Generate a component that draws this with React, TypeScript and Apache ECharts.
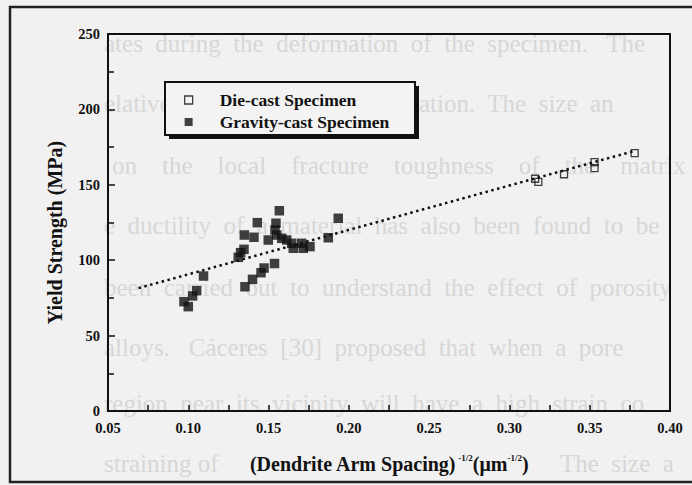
import React, { useEffect, useRef } from "react";
import * as echarts from "echarts";

// ---- data ----
const seriesNames = ["Die-cast Specimen", "Gravity-cast Specimen"];

const dieCastX = [0.316, 0.318, 0.334, 0.353, 0.353, 0.378];
const dieCastY = [154, 152, 157, 165, 161, 171];

const gravityX = [
  0.0973, 0.1, 0.1027, 0.1052, 0.1095, 0.1353, 0.14, 0.1453, 0.1472, 0.1537,
  0.1311, 0.1326, 0.1347, 0.1349, 0.1409, 0.143, 0.1498, 0.1546, 0.154, 0.1567,
  0.1551, 0.1582, 0.1613, 0.1644, 0.1654, 0.1706, 0.1716, 0.1758, 0.1872, 0.1934,
];
const gravityY = [
  72.5, 69.2, 76.3, 79.8, 89.5, 82.4, 87.3, 91.7, 94.8, 97.8,
  101.9, 105, 107.2, 116.7, 115.2, 124.9, 113.4, 124.5, 120, 132.8,
  116.7, 114.5, 113.4, 111.2, 107.9, 111.2, 107.9, 109, 114.9, 127.8,
];

const trendX = [0.069, 0.378];
const trendY = [81.5, 172.5];

const xMin = 0.05;
const xMax = 0.4;
const xStep = 0.05;
const yMin = 0;
const yMax = 250;
const yStep = 50;

const yTitle = "Yield Strength (MPa)";

// faint bleed-through text of the scanned page (fragments that stay visible)
const bleedTexts = [
  "ates  during  the  deformation  of  the  specimen.   The",
  "elatively",
  "ation.  The  size  an",
  "on    the    local    fracture    toughness    of    the    matrix",
  "e  ductility  of  a  material  has  also  been  found  to  be",
  "been  carried  out  to  understand  the  effect  of  porosity",
  "alloys.   Cáceres  [30]  proposed  that  when  a  pore",
  "region  near  its  vicinity  will  have  a  high  strain  co",
  "straining of",
  "The  size  a",
];

const SERIF = "'Liberation Serif', 'DejaVu Serif', serif";

export default function App() {
  const ref = useRef<HTMLDivElement>(null);
  useEffect(() => {
    const chart = echarts.init(ref.current!, null, { renderer: "svg" });
    const bleedPos = [
      [104, 44], [104, 104], [419, 104], [112, 166], [104, 226],
      [104, 288], [104, 348], [104, 404], [104, 464], [560, 464],
    ];
    chart.setOption({
      animation: false,
      backgroundColor: "#f1f1f1",
      graphic: [
        ...bleedTexts.map((t, i) => ({
          type: "text",
          left: bleedPos[i][0],
          top: bleedPos[i][1] - 13,
          z: -10,
          silent: true,
          style: {
            text: t,
            fill: "#d7d7d7",
            font: `25px ${SERIF}`,
          },
        })),
        {
          type: "polyline",
          z: 10,
          silent: true,
          shape: { points: [[700, 7], [10, 7], [10, 482], [700, 482]] },
          style: { stroke: "#222", lineWidth: 2.5, fill: "none" },
        },
        {
          type: "rect",
          z: 10,
          silent: true,
          shape: { x: 169, y: 86, width: 250, height: 53 },
          style: { fill: "#111" },
        },
        {
          type: "rect",
          z: 11,
          silent: true,
          shape: { x: 165, y: 82, width: 250, height: 53 },
          style: { fill: "#f3f3f3", stroke: "#111", lineWidth: 2 },
        },
      ],
      legend: {
        z: 20,
        orient: "vertical",
        left: 184,
        top: 91,
        padding: 0,
        itemGap: 4,
        itemWidth: 8,
        itemHeight: 8,
        textStyle: {
          fontFamily: SERIF,
          fontWeight: "bold",
          fontSize: 17.5,
          lineHeight: 17,
          color: "#111",
          padding: [0, 0, 0, 22],
        },
        data: [
          {
            name: seriesNames[0],
            icon: "rect",
            itemStyle: { color: "rgba(0,0,0,0)", borderColor: "#111", borderWidth: 1.3 },
          },
          { name: seriesNames[1], icon: "rect", itemStyle: { color: "#111" } },
        ],
      },
      grid: {
        left: 108,
        right: 22,
        top: 34,
        bottom: 74,
        show: true,
        borderColor: "#111",
        borderWidth: 2,
        backgroundColor: "transparent",
      },
      xAxis: {
        type: "value",
        min: xMin,
        max: xMax,
        interval: xStep,
        axisLine: { lineStyle: { color: "#111", width: 2 } },
        axisTick: { inside: true, length: 6, lineStyle: { color: "#111", width: 1.5 } },
        minorTick: { show: true, splitNumber: 2, length: 6, lineStyle: { color: "#111", width: 1.5 } },
        splitLine: { show: false },
        axisLabel: {
          formatter: (v: number) => v.toFixed(2),
          color: "#111",
          fontSize: 14.5,
          fontWeight: "bold",
          fontFamily: SERIF,
          margin: 9,
        },
        name: "{b|(Dendrite Arm Spacing)}{s| -1/2}{b|(μm}{s|-1/2}{b|)}",
        nameLocation: "middle",
        nameGap: 42,
        nameTextStyle: {
          rich: {
            b: { fontFamily: SERIF, fontWeight: "bold", fontSize: 20, color: "#111" },
            s: { fontFamily: SERIF, fontWeight: "bold", fontSize: 9, color: "#111", padding: [0, 0, 12, 0] },
          },
        },
      },
      yAxis: {
        type: "value",
        min: yMin,
        max: yMax,
        interval: yStep,
        axisLine: { lineStyle: { color: "#111", width: 2 } },
        axisTick: { inside: true, length: 7, lineStyle: { color: "#111", width: 1.5 } },
        minorTick: { show: true, splitNumber: 2, length: 6, lineStyle: { color: "#111", width: 1.5 } },
        splitLine: { show: false },
        axisLabel: {
          color: "#111",
          fontSize: 14.5,
          fontWeight: "bold",
          fontFamily: SERIF,
          margin: 8,
        },
        name: yTitle,
        nameLocation: "middle",
        nameGap: 43,
        nameRotate: 90,
        nameTextStyle: {
          fontFamily: SERIF,
          fontWeight: "bold",
          fontSize: 20,
          color: "#111",
          padding: [0, 20, 0, 0],
        },
      },
      series: [
        {
          name: seriesNames[0],
          type: "scatter",
          symbol: "rect",
          symbolSize: 7,
          z: 4,
          itemStyle: { color: "rgba(0,0,0,0)", borderColor: "#111", borderWidth: 1.3 },
          data: dieCastX.map((x, i) => [x, dieCastY[i]]),
        },
        {
          name: seriesNames[1],
          type: "scatter",
          symbol: "rect",
          symbolSize: 9.5,
          z: 4,
          itemStyle: { color: "#111" },
          data: gravityX.map((x, i) => [x, gravityY[i]]),
        },
        {
          name: "trend",
          type: "line",
          showSymbol: false,
          silent: true,
          z: 3,
          lineStyle: { color: "#111", width: 2.5, type: [2.5, 3.5] },
          data: trendX.map((x, i) => [x, trendY[i]]),
        },
      ],
    });
    return () => chart.dispose();
  }, []);
  return (
    <div
      ref={ref}
      style={{ position: "fixed", left: 0, top: 0, width: 692, height: 485 }}
    />
  );
}
